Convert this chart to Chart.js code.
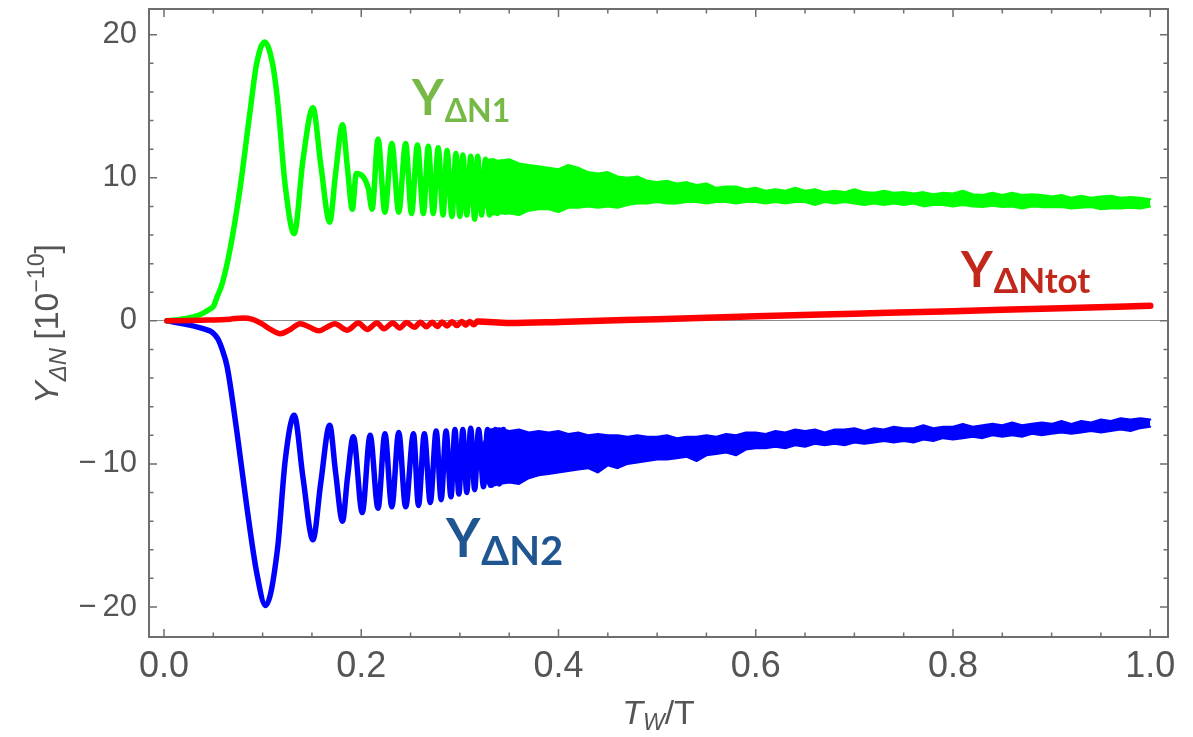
<!DOCTYPE html>
<html>
<head>
<meta charset="utf-8">
<script src="https://cdn.jsdelivr.net/npm/chart.js@4.4.1/dist/chart.umd.min.js"></script>
<style>
    html, body { margin: 0; padding: 0; background: #fff; }
    #wrap { width: 1193px; height: 737px; position: relative; }
</style>
</head>
<body>
<div id="wrap"><canvas id="chart"></canvas></div>
<script>
// ========== data ==========

const xTicks = [0.0, 0.2, 0.4, 0.6, 0.8, 1.0];
const yTicks = [-20, -10, 0, 10, 20];

// Y_ΔN1 - rise and the first, still separable oscillations
const greenX = [0.003, 0.021, 0.037, 0.047, 0.050, 0.054, 0.059, 0.067, 0.077, 0.087, 0.094, 0.102, 0.110, 0.115, 0.123,
    0.132, 0.141, 0.151, 0.159, 0.168, 0.174, 0.181, 0.186, 0.191, 0.195, 0.207, 0.211, 0.217, 0.224, 0.231,
    0.238, 0.245, 0.251, 0.257, 0.263, 0.268, 0.273, 0.278, 0.283, 0.287, 0.292, 0.296, 0.300, 0.303, 0.307,
    0.311, 0.315, 0.318, 0.322, 0.326, 0.330, 0.334, 0.338, 0.342, 0.346];
const greenY = [0, 0.15, 0.45, 0.85, 1.0, 1.7, 2.6, 5.0, 9.2, 14.5, 18.0, 19.5, 18.0, 15.5, 9.4,
    6.1, 11.3, 14.9, 10.9, 6.9, 10.3, 13.7, 10.7, 7.8, 10.3, 9.3, 7.8, 12.7, 7.6, 12.4,
    7.6, 12.4, 7.5, 12.3, 7.5, 12.2, 7.5, 12.1, 7.4, 11.9, 7.3, 11.7, 7.3, 11.6, 7.4,
    11.5, 7.1, 11.5, 7.4, 11.3, 7.4, 11.2, 7.5, 11.1, 7.6];

// Y_ΔN2 - dip and the first oscillations
const blueX = [0.003, 0.026, 0.042, 0.049, 0.055, 0.059, 0.064, 0.074, 0.084, 0.094, 0.103, 0.115, 0.123, 0.132, 0.141,
    0.151, 0.159, 0.168, 0.174, 0.181, 0.186, 0.192, 0.201, 0.209, 0.217, 0.224, 0.231, 0.238, 0.245, 0.253,
    0.258, 0.264, 0.270, 0.276, 0.281, 0.286, 0.291, 0.295, 0.299, 0.303, 0.307, 0.311, 0.315, 0.319, 0.324,
    0.328, 0.332, 0.336, 0.340, 0.344];
const blueY = [0, -0.3, -0.6, -0.8, -1.3, -2.0, -3.2, -7.8, -13.0, -17.6, -19.9, -16.0, -9.7, -6.6, -11.0,
    -15.3, -11.3, -7.3, -10.6, -14.0, -11.0, -8.1, -13.4, -8.0, -13.1, -7.9, -13.0, -7.8, -13.0, -7.9,
    -12.9, -7.9, -12.7, -7.7, -12.5, -7.7, -12.3, -7.6, -12.1, -7.6, -12.0, -7.5, -11.8, -7.6, -11.6,
    -7.6, -11.5, -7.6, -11.4, -7.6];

// Y_ΔNtot
const redX = [0.003, 0.037, 0.067, 0.080, 0.089, 0.099, 0.108, 0.118, 0.128, 0.138, 0.148, 0.157, 0.165, 0.173, 0.186,
    0.197, 0.206, 0.216, 0.223, 0.232, 0.239, 0.246, 0.254, 0.260, 0.266, 0.272, 0.277, 0.282, 0.287, 0.292,
    0.297, 0.302, 0.306, 0.310, 0.314, 0.318, 0.35, 0.40, 0.50, 0.60, 0.70, 0.80, 0.90, 1.00];
const redY = [0, 0.05, 0.12, 0.2, 0.12, -0.2, -0.6, -0.9, -0.6, -0.2, -0.45, -0.7, -0.45, -0.2, -0.65,
    -0.15, -0.6, -0.15, -0.55, -0.15, -0.5, -0.12, -0.45, -0.1, -0.42, -0.1, -0.4, -0.08, -0.36, -0.06,
    -0.33, -0.05, -0.3, -0.04, -0.28, -0.05, -0.15, -0.08, 0.12, 0.32, 0.5, 0.68, 0.87, 1.05];

// dense part: upper / lower edge of the oscillation band
const bandX = [0.318, 0.33, 0.34, 0.35, 0.36, 0.37, 0.38, 0.39, 0.40,
    0.41, 0.42, 0.43, 0.44, 0.45, 0.46, 0.47, 0.48, 0.49, 0.50,
    0.51, 0.52, 0.53, 0.54, 0.55, 0.56, 0.57, 0.58, 0.59, 0.60,
    0.61, 0.62, 0.63, 0.64, 0.65, 0.66, 0.67, 0.68, 0.69, 0.70,
    0.71, 0.72, 0.73, 0.74, 0.75, 0.76, 0.77, 0.78, 0.79, 0.80,
    0.81, 0.82, 0.83, 0.84, 0.85, 0.86, 0.87, 0.88, 0.89, 0.90,
    0.91, 0.92, 0.93, 0.94, 0.95, 0.96, 0.97, 0.98, 0.99, 1.00];
const greenUpper = [9.6, 11.3, 11.2, 11.3, 11.0, 10.9, 10.8, 10.7, 10.6,
    10.9, 10.7, 10.4, 10.3, 10.4, 10.1, 10.0, 10.1, 9.8, 9.7,
    9.8, 9.6, 9.7, 9.5, 9.6, 9.3, 9.4, 9.4, 9.2, 9.3,
    9.1, 9.2, 9.1, 9.3, 9.1, 9.2, 9.0, 9.1, 9.0, 9.2,
    9.0, 8.95, 9.1, 8.95, 9.0, 8.9, 9.0, 8.85, 8.95, 8.9,
    9.1, 8.85, 8.8, 8.95, 8.8, 8.95, 8.8, 8.85, 8.8, 8.7,
    8.8, 8.6, 8.75, 8.6, 8.7, 8.75, 8.6, 8.65, 8.6, 8.5];
const greenLower = [9.2, 7.4, 7.5, 7.5, 7.4, 7.7, 7.8, 7.8, 7.6,
    7.9, 7.9, 8.0, 7.9, 8.0, 7.9, 8.1, 8.2, 8.2, 8.3,
    8.2, 8.2, 8.3, 8.3, 8.2, 8.3, 8.3, 8.2, 8.3, 8.3,
    8.2, 8.3, 8.2, 8.3, 8.3, 8.1, 8.3, 8.2, 8.3, 8.2,
    8.1, 8.2, 8.1, 8.2, 8.1, 8.2, 8.0, 8.1, 8.1, 8.0,
    8.1, 8.0, 7.95, 8.05, 7.95, 8.0, 7.85, 8.0, 7.95, 7.95,
    7.95, 7.85, 7.9, 7.95, 7.8, 7.85, 7.85, 7.9, 7.85, 8.0];
const blueUpper = [-9.5, -7.6, -7.5, -7.7, -7.6, -7.8, -7.7, -7.8, -7.7,
    -7.9, -7.8, -8.0, -7.9, -8.0, -8.0, -8.1, -8.0, -8.1, -8.1,
    -8.0, -8.2, -8.1, -8.1, -8.0, -8.1, -7.9, -8.0, -7.8, -7.8,
    -7.9, -7.7, -7.8, -7.6, -7.7, -7.6, -7.8, -7.6, -7.6, -7.5,
    -7.7, -7.5, -7.6, -7.4, -7.5, -7.5, -7.3, -7.5, -7.4, -7.4,
    -7.2, -7.4, -7.3, -7.2, -7.3, -7.1, -7.3, -7.2, -7.1, -7.2,
    -7.0, -7.2, -7.0, -7.1, -6.9, -7.0, -6.8, -6.9, -6.8, -6.9];
const blueLower = [-9.9, -11.6, -11.4, -11.3, -11.4, -11.0, -10.8, -10.7, -10.6,
    -10.5, -10.4, -10.3, -10.6, -10.1, -10.3, -10.0, -9.9, -9.8, -9.7,
    -9.7, -9.6, -9.5, -9.8, -9.4, -9.3, -9.2, -9.4, -9.0, -8.9,
    -8.9, -8.8, -8.9, -8.7, -8.8, -8.6, -8.7, -8.6, -8.7, -8.5,
    -8.6, -8.5, -8.4, -8.5, -8.4, -8.5, -8.3, -8.4, -8.2, -8.3,
    -8.2, -8.1, -8.2, -8.0, -8.1, -8.0, -8.1, -7.9, -8.0, -7.9,
    -7.8, -7.9, -7.8, -7.7, -7.8, -7.7, -7.6, -7.7, -7.5, -7.4];

// ========== drawing ==========

const GREEN = '#00ff00';
const BLUE = '#0000ff';
const RED = '#ff0000';
const AXIS_FONT = '"Liberation Sans", Arial, sans-serif';
const NARROW_FONT = '"Liberation Sans Narrow", "Liberation Sans", Arial, sans-serif';
const LABEL_FONT = 'Lato, "Open Sans", sans-serif';

function pts(xs, ys) {
    return xs.map((x, i) => ({ x: x, y: ys[i] }));
}

function minusSign(v) {
    return v < 0 ? '\u2212\u2009' + Math.abs(v) : String(v);
}

// draws a run of text pieces left to right, each with its own font / colour / shift
function drawRich(ctx, parts, x, y) {
    let cx = x;
    parts.forEach(p => {
        ctx.font = p.font;
        ctx.fillStyle = p.color;
        ctx.fillText(p.text, cx, y + (p.dy || 0));
        cx += ctx.measureText(p.text).width + (p.gap || 0);
    });
    return cx - x;
}

function richWidth(ctx, parts) {
    let w = 0;
    parts.forEach(p => {
        ctx.font = p.font;
        w += ctx.measureText(p.text).width + (p.gap || 0);
    });
    return w;
}

// Mathematica-like frame with inward ticks on all four sides
const framePlugin = {
    id: 'frame',
    afterDatasetsDraw(chart) {
        const { ctx, chartArea: a, scales } = chart;
        const xs = scales.x, ys = scales.y;
        ctx.save();
        ctx.strokeStyle = '#6e6e6e';
        ctx.lineWidth = 1.5;
        ctx.beginPath();
        for (let i = 0; i <= 20; i++) {
            const px = xs.getPixelForValue(i * 0.05);
            const len = i % 4 === 0 ? 8 : 4.5;
            ctx.moveTo(px, a.bottom); ctx.lineTo(px, a.bottom - len);
            ctx.moveTo(px, a.top); ctx.lineTo(px, a.top + len);
        }
        for (let v = -20; v <= 20; v += 2) {
            const py = ys.getPixelForValue(v);
            const len = v % 10 === 0 ? 8 : 4.5;
            ctx.moveTo(a.left, py); ctx.lineTo(a.left + len, py);
            ctx.moveTo(a.right, py); ctx.lineTo(a.right - len, py);
        }
        ctx.stroke();
        ctx.lineWidth = 2;
        ctx.strokeRect(a.left, a.top, a.right - a.left, a.bottom - a.top);
        ctx.restore();
    },
    afterDraw(chart) {
        const { ctx, chartArea: a } = chart;
        const grey = '#555';
        ctx.save();
        ctx.textBaseline = 'alphabetic';

        // x title: T_W / T
        const xt = [
            { text: 'T', font: 'italic 34px ' + AXIS_FONT, color: grey },
            { text: 'W', font: 'italic 23px ' + AXIS_FONT, color: grey, dy: 6 },
            { text: '/T', font: '34px ' + AXIS_FONT, color: grey }
        ];
        const xw = richWidth(ctx, xt);
        drawRich(ctx, xt, (a.left + a.right) / 2 - xw / 2, 724);

        // y title: Y_ΔN [10^-10], rotated
        const yt = [
            { text: 'Y', font: 'italic 34px ' + AXIS_FONT, color: grey },
            { text: '\u0394N', font: 'italic 24px ' + AXIS_FONT, color: grey, dy: 8, gap: 8 },
            { text: '[10', font: '34px ' + AXIS_FONT, color: grey },
            { text: '\u221210', font: '23px ' + AXIS_FONT, color: grey, dy: -14 },
            { text: ']', font: '34px ' + AXIS_FONT, color: grey }
        ];
        const yw = richWidth(ctx, yt);
        ctx.save();
        ctx.translate(58, 324);
        ctx.rotate(-Math.PI / 2);
        drawRich(ctx, yt, -yw / 2, 0);
        ctx.restore();

        // curve labels
        drawRich(ctx, [
            { text: 'Y', font: 'bold 49px ' + LABEL_FONT, color: '#76b947', gap: 1 },
            { text: '\u0394N1', font: 'bold 32px ' + LABEL_FONT, color: '#76b947', dy: 7 }
        ], 412, 115);
        drawRich(ctx, [
            { text: 'Y', font: 'bold 49px ' + LABEL_FONT, color: '#c1281b', gap: 1 },
            { text: '\u0394Ntot', font: 'bold 35px ' + LABEL_FONT, color: '#c1281b', dy: 6 }
        ], 961, 287);
        drawRich(ctx, [
            { text: 'Y', font: 'bold 53px ' + LABEL_FONT, color: '#1f5590', gap: 1 },
            { text: '\u0394N2', font: 'bold 40px ' + LABEL_FONT, color: '#1f5590', dy: 8 }
        ], 446, 557);
        ctx.restore();
    }
};

const lineStyle = {
    pointRadius: 0,
    borderCapStyle: 'round',
    borderJoinStyle: 'round',
    fill: false
};

new Chart(document.getElementById('chart'), {
    type: 'line',
    data: {
        datasets: [
            Object.assign({ label: 'Y_ΔNtot', data: pts(redX, redY), borderColor: RED, borderWidth: 5.5,
                cubicInterpolationMode: 'monotone',
                segment: { borderWidth: c => c.p0.parsed.x >= 0.318 ? 6.5 : 5.5 } }, lineStyle),
            Object.assign({ label: 'Y_ΔN1', data: pts(greenX, greenY), borderColor: GREEN, borderWidth: 5.5,
                cubicInterpolationMode: 'monotone' }, lineStyle),
            Object.assign({ label: 'Y_ΔN1 upper', data: pts(bandX, greenUpper), borderColor: GREEN, borderWidth: 2,
                tension: 0 }, lineStyle),
            Object.assign({}, lineStyle, { label: 'Y_ΔN1 lower', data: pts(bandX, greenLower), borderColor: GREEN,
                borderWidth: 2, tension: 0, fill: '-1', backgroundColor: GREEN }),
            Object.assign({ label: 'Y_ΔN2', data: pts(blueX, blueY), borderColor: BLUE, borderWidth: 5.5,
                cubicInterpolationMode: 'monotone' }, lineStyle),
            Object.assign({ label: 'Y_ΔN2 upper', data: pts(bandX, blueUpper), borderColor: BLUE, borderWidth: 2,
                tension: 0 }, lineStyle),
            Object.assign({}, lineStyle, { label: 'Y_ΔN2 lower', data: pts(bandX, blueLower), borderColor: BLUE,
                borderWidth: 2, tension: 0, fill: '-1', backgroundColor: BLUE })
        ]
    },
    options: {
        responsive: true,
        maintainAspectRatio: false,
        animation: false,
        devicePixelRatio: 1,
        layout: { padding: { top: 9, right: 25, left: 0, bottom: 0 } },
        plugins: {
            legend: { display: false },
            tooltip: { enabled: false }
        },
        scales: {
            x: {
                type: 'linear',
                min: -0.0152,
                max: 1.018,
                afterBuildTicks: s => { s.ticks = xTicks.map(v => ({ value: v })); },
                afterFit: s => { s.height = 100; s.paddingLeft = 0; s.paddingRight = 0; },
                grid: { display: false, drawTicks: false },
                border: { display: false },
                ticks: {
                    color: '#555',
                    font: { family: NARROW_FONT, size: 36 },
                    padding: 8,
                    maxRotation: 0,
                    autoSkip: false,
                    callback: v => Number(v).toFixed(1)
                }
            },
            y: {
                type: 'linear',
                min: -22.1,
                max: 21.8,
                afterBuildTicks: s => { s.ticks = yTicks.map(v => ({ value: v })); },
                afterFit: s => { s.width = 149; s.paddingTop = 0; s.paddingBottom = 0; },
                grid: {
                    drawTicks: false,
                    lineWidth: 1,
                    color: c => (c.tick && c.tick.value === 0) ? '#8c8c8c' : 'rgba(0,0,0,0)'
                },
                border: { display: false },
                ticks: {
                    color: '#555',
                    font: { family: AXIS_FONT, size: 31 },
                    padding: 12,
                    autoSkip: false,
                    callback: v => minusSign(v)
                }
            }
        }
    },
    plugins: [framePlugin]
});
</script>
</body>
</html>
